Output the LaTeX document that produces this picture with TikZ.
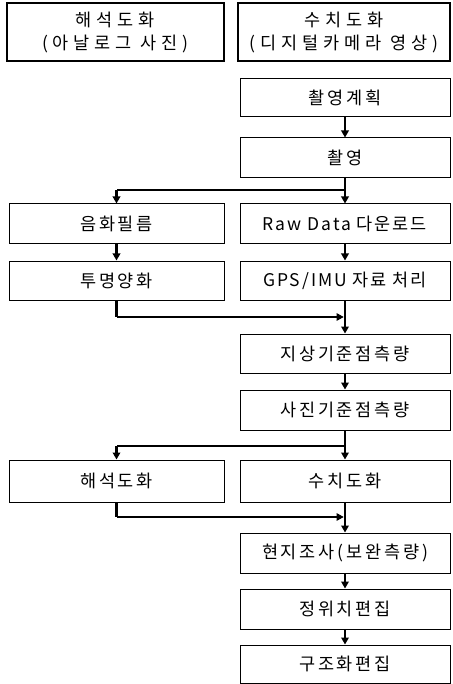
\documentclass[tikz,border=0pt]{standalone}
\usepackage{fontspec}
\setmainfont{Noto Sans CJK KR}
\newfontfamily\wideA{Noto Sans CJK KR}[LetterSpace=16]
\newfontfamily\wideB{Noto Sans CJK KR}[LetterSpace=28]
\newfontfamily\wideC{Noto Sans CJK KR}[LetterSpace=11]
\usetikzlibrary{arrows.meta}
\begin{document}
\begin{tikzpicture}[x=1pt,y=-1pt,
  box/.style={draw, line width=1pt, inner sep=0pt, align=center,
    font=\wideA\fontsize{17.5}{23}\selectfont},
  topbox/.style={box, line width=2.4pt, font=\wideB\fontsize{17.5}{23}\selectfont},
  rbox/.style={box, minimum width=210pt},
  lbox/.style={box, minimum width=215pt},
  latin/.style={font=\wideC\fontsize{17.5}{23}\selectfont},
  flow/.style={line width=2.6pt, -{Triangle[length=7pt,width=7.5pt]}},
  flowline/.style={line width=2.6pt},
  branch/.style={line width=1.1pt},
  merge/.style={line width=1.1pt, -{Triangle[length=7pt,width=7.5pt]}, shorten >=1.3pt}]
\useasboundingbox (0,0) rectangle (452,684);
\fill[white] (0,0) rectangle (452,684);
% boxes
\node[topbox, minimum width=217pt, minimum height=58pt] (L0) at (115.5,32) {해석도화\\(아날로그 사진)};
\node[topbox, minimum width=212pt, minimum height=58pt] (R0) at (344,32) {수치도화\\(디지털카메라 영상)};
\node[rbox, minimum height=38pt] (R1) at (345,98) {촬영계획};
\node[rbox, minimum height=40pt] (R2) at (345,158) {촬영};
\node[lbox, minimum height=40pt] (L3) at (116.5,224) {음화필름};
\node[rbox, latin, minimum height=40pt] (R3) at (345,224) {Raw Data 다운로드};
\node[lbox, minimum height=39pt] (L4) at (116.5,280.5) {투명양화};
\node[rbox, latin, minimum height=39pt] (R4) at (345,280.5) {GPS/IMU 자료 처리};
\node[rbox, minimum height=39pt] (R5) at (345,353.5) {지상기준점측량};
\node[rbox, minimum height=40pt] (R6) at (345,410) {사진기준점측량};
\node[lbox, minimum height=42pt] (L7) at (116.5,481) {해석도화};
\node[rbox, minimum height=42pt] (R7) at (345,481) {수치도화};
\node[rbox, minimum height=40pt] (R8) at (345,553) {현지조사(보완측량)};
\node[rbox, minimum height=40pt] (R9) at (345,609) {정위치편집};
\node[rbox, minimum height=38pt] (R10) at (345,664) {구조화편집};
% coordinates
\coordinate (b1) at (345,190);
\coordinate (m1) at (345,317);
\coordinate (b2) at (345,446);
\coordinate (m2) at (345,517);
% connectors
\draw[flow] (R1.south) -- (R2.north);
\draw[flow] (R2.south) -- (R3.north);
\draw[branch] (b1) -- (b1 -| L3.north);
\draw[flow] (b1 -| L3.north) -- (L3.north);
\draw[flow] (L3.south) -- (L4.north);
\draw[flow] (R3.south) -- (R4.north);
\draw[flowline] (L4.south) -- (L4.south |- m1);
\draw[merge] (L4.south |- m1) -- (m1);
\draw[flow] (R4.south) -- (R5.north);
\draw[flow] (R5.south) -- (R6.north);
\draw[flow] (R6.south) -- (R7.north);
\draw[branch] (b2) -- (b2 -| L7.north);
\draw[flow] (b2 -| L7.north) -- (L7.north);
\draw[flowline] (L7.south) -- (L7.south |- m2);
\draw[merge] (L7.south |- m2) -- (m2);
\draw[flow] (R7.south) -- (R8.north);
\draw[flow] (R8.south) -- (R9.north);
\draw[flow] (R9.south) -- (R10.north);
\end{tikzpicture}
\end{document}
